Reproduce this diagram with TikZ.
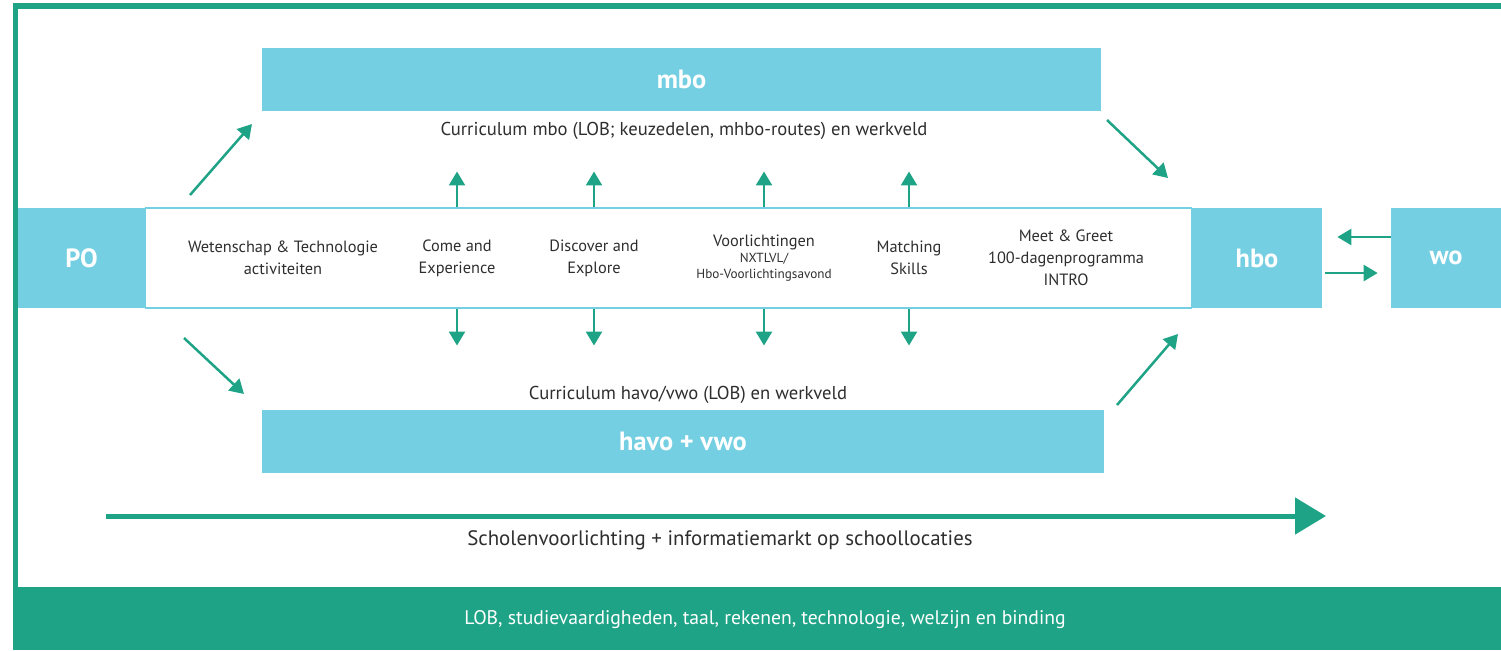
\documentclass[tikz,border=0pt]{standalone}
\usepackage{fontspec}
\setmainfont{PT Sans}
\usepackage{xcolor}
\usetikzlibrary{arrows.meta, positioning, calc}
\definecolor{lobcyan}{HTML}{74CFE2}
\definecolor{lobgreen}{HTML}{1FA386}
\definecolor{lobtext}{HTML}{2E2E2E}

\begin{document}
\begin{tikzpicture}[x=0.02cm, y=-0.02cm,
    box/.style={fill=lobcyan, text=white, inner sep=0pt, font=\fontsize{15}{18}\selectfont\bfseries},
    act/.style={text=lobtext, align=center, font=\fontsize{9.3}{12.5}\selectfont},
    lbl/.style={text=lobtext, font=\fontsize{10.6}{12}\selectfont},
    arr/.style={draw=lobgreen, line width=0.05cm, -{Triangle[length=0.28cm,width=0.32cm]}}]

      \useasboundingbox (0,0) rectangle (1501,650);

      % frame and bottom bar
      \fill[lobgreen] (13,3) rectangle (18,587);
      \fill[lobgreen] (13,3) rectangle (1501,9);
      \fill[lobgreen] (13,587) rectangle (1501,650);

      \node[box, minimum width=16.78cm, minimum height=1.26cm] (mbo) at (681.5,79.5) {mbo};
      \node[box, minimum width=16.84cm, minimum height=1.26cm] (havo) at (683,441.5) {havo + vwo};
      \node[draw=lobcyan, line width=0.6pt, minimum width=20.94cm, minimum height=2cm] (band) at (668.5,258) {};
      \node[box, minimum width=2.54cm, minimum height=2cm] (po) at (81.5,258) {PO};
      \node[box, minimum width=2.6cm, minimum height=2cm] (hbo) at (1257,258) {hbo};
      \node[box, minimum width=2.2cm, minimum height=2cm] (wo) at (1446,258) {wo};

      \node[lbl] (mbotxt) at (684,131) {Curriculum mbo (LOB; keuzedelen, mhbo-routes) en werkveld};
      \node[lbl] (havotxt) at (688,395) {Curriculum havo/vwo (LOB) en werkveld};

      % activities in the band
      \node[act] (act1) at (283,258) {Wetenschap \& Technologie\\activiteiten};
      \node[act] (act2) at (457,258) {Come and\\Experience};
      \node[act] (act3) at (594,258) {Discover and\\Explore};
      \node[act, font=\fontsize{7.5}{9}\selectfont] (act4) at (764,258) {{\fontsize{9.3}{9}\selectfont Voorlichtingen}\\NXTLVL/\\Hbo-Voorlichtingsavond};
      \node[act] (act5) at (909,258) {Matching\\Skills};
      \node[act] (act6) at (1066,258) {Meet \& Greet\\100-dagenprogramma\\INTRO};

      \foreach \i in {2,...,5} {
        \coordinate (up\i) at ($(act\i |- band.north)+(0,-36)$);
        \coordinate (dn\i) at ($(act\i |- band.south)+(0,37)$);
        \draw[arr] (act\i |- band.north) -- (up\i);
        \draw[arr] (act\i |- band.south) -- (dn\i);
      }

      % diagonal arrows
      \coordinate (pombo) at (190,195);
      \coordinate (mbotop) at (252,124);
      \coordinate (mboend) at (1107,120);
      \coordinate (hbotop) at (1168,178);
      \coordinate (pohavo) at (184,338);
      \coordinate (havobot) at (244,394);
      \coordinate (havoend) at (1117,405);
      \coordinate (hbobot) at (1178,334);
      \draw[arr] (pombo) -- (mbotop);
      \draw[arr] (mboend) -- (hbotop);
      \draw[arr] (pohavo) -- (havobot);
      \draw[arr] (havoend) -- (hbobot);

      \draw[arr, shorten >=0.3cm] ($(wo.west)+(0,-21)$) -- ($(hbo.east)+(0,-21)$);
      \draw[arr, shorten <=0.06cm, shorten >=0.26cm] ($(hbo.east)+(0,15)$) -- ($(wo.west)+(0,15)$);

      % long arrow
      \coordinate (tl) at (106,516);
      \coordinate (tr) at (1326,516);
      \draw[draw=lobgreen, line width=0.1cm, -{Triangle[length=0.62cm,width=0.72cm]}] (tl) -- (tr);
      \node[lbl, font=\fontsize{11.9}{13}\selectfont] (school) at (720,540) {Scholenvoorlichting + informatiemarkt op schoollocaties};

      \node[text=white, font=\fontsize{11.2}{12}\selectfont] (bar) at (765,620) {LOB, studievaardigheden, taal, rekenen, technologie, welzijn en binding};
\end{tikzpicture}
\end{document}
